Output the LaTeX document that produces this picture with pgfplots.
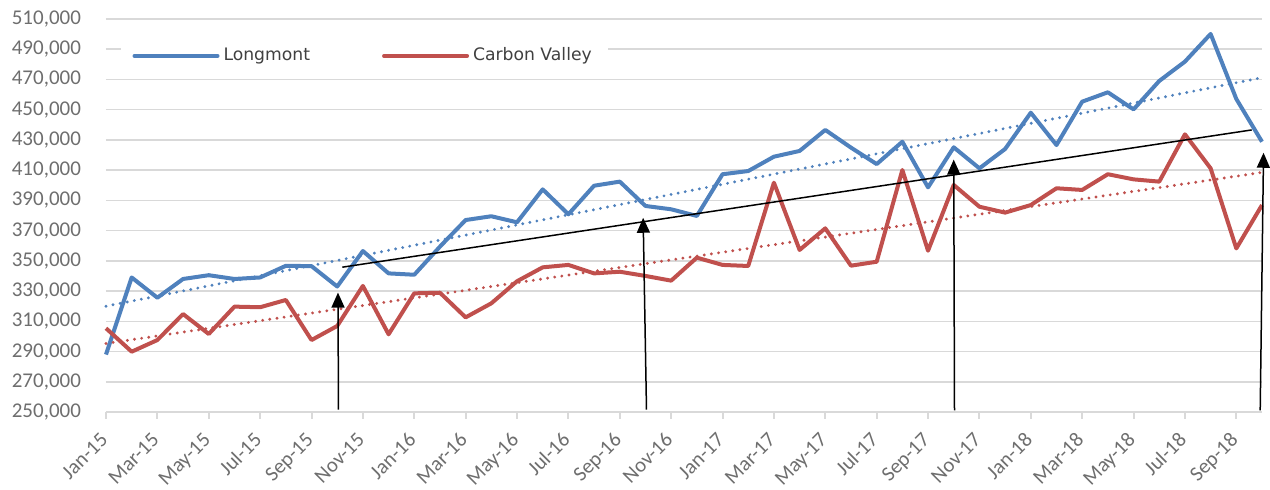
\documentclass[border=0pt]{standalone}
\usepackage{fontspec}
\setmainfont{Carlito}
\newfontfamily\legfont{DejaVu Sans}
\usepackage{pgfplots}
\pgfplotsset{compat=1.18}
\usetikzlibrary{arrows.meta}
\definecolor{lmblue}{HTML}{4F81BD}
\definecolor{cvred}{HTML}{C0504D}
\definecolor{gridgray}{HTML}{D9D9D9}
\definecolor{ticktext}{HTML}{6E6E6E}
\definecolor{legtext}{HTML}{404040}
\begin{document}
\begin{tikzpicture}
\begin{axis}[
  name=ax,
  scale only axis,
  width=578pt, height=196.5pt,
  xmin=0, xmax=45,
  ymin=250000, ymax=510000,
  clip=false,
  axis x line*=bottom, axis y line*=left,
  y axis line style={draw=none},
  x axis line style={draw=gridgray, line width=1pt},
  ytick={250000,270000,...,510000},
  ytick style={draw=none},
  xtick={0,2,...,44},
  xticklabels={Jan-15,Mar-15,May-15,Jul-15,Sep-15,Nov-15,Jan-16,Mar-16,May-16,Jul-16,Sep-16,Nov-16,Jan-17,Mar-17,May-17,Jul-17,Sep-17,Nov-17,Jan-18,Mar-18,May-18,Jul-18,Sep-18},
  xtick style={draw=gridgray, line width=1pt},
  tick align=outside,
  major tick length=3.5pt,
  ymajorgrids,
  grid style={gridgray, line width=0.75pt},
  scaled y ticks=false,
  /pgf/number format/.cd, fixed, 1000 sep={{,}}, assume math mode=true,
  /pgfplots/.cd,
  ticklabel style={text=ticktext},
  yticklabel style={font=\fontsize{10.5}{12}\selectfont, xshift=-5.5pt},
  xticklabel style={font=\fontsize{10.4}{12}\selectfont, xshift=1.5pt, yshift=-11pt, rotate=45, anchor=base east, inner sep=0pt},
  legend columns=-1,
  legend style={at={(axis description cs:0.0122,0.906)}, anchor=west,
    draw=none, fill=white, inner xsep=6pt, inner ysep=1pt,
    font=\legfont\fontsize{8.6}{10}\selectfont, text=legtext,
    /tikz/every even column/.append style={column sep=34pt}},
  legend image code/.code={\draw[#1, line cap=round] (0pt,0pt) -- (41.5pt,0pt);},
]
\addplot[lmblue, line width=2pt, line join=round] coordinates {
(0,288000) (1,339000) (2,325600) (3,338000) (4,340500) (5,338000) (6,339000) (7,346700) (8,346500) (9,333000)
(10,356500) (11,341700) (12,340800) (13,359400) (14,377000) (15,379500) (16,375500) (17,397300) (18,380800) (19,399700)
(20,402400) (21,386300) (22,384100) (23,379700) (24,407300) (25,409400) (26,418900) (27,422700) (28,436600) (29,424900)
(30,414000) (31,428800) (32,398600) (33,425100) (34,411200) (35,424000) (36,448000) (37,426600) (38,455300) (39,461500)
(40,450200) (41,469000) (42,481800) (43,500100) (44,457100) (45,428800)};
\addlegendentry{Longmont}
\addplot[cvred, line width=2pt, line join=round] coordinates {
(0,305400) (1,289900) (2,297600) (3,314800) (4,301600) (5,319700) (6,319300) (7,324100) (8,297600) (9,306900)
(10,333400) (11,301400) (12,328500) (13,328900) (14,312600) (15,321900) (16,336500) (17,345700) (18,347300) (19,341700)
(20,342800) (21,340000) (22,336900) (23,352100) (24,347300) (25,346600) (26,401700) (27,357200) (28,371500) (29,346800)
(30,349400) (31,410100) (32,356700) (33,400200) (34,385800) (35,381900) (36,386900) (37,398000) (38,396900) (39,407300)
(40,403900) (41,402400) (42,433700) (43,411200) (44,358200) (45,386900)};
\addlegendentry{Carbon Valley}
% linear trend lines
\addplot[lmblue, line width=1.6pt, line cap=round, dash pattern=on 0pt off 3.6pt, forget plot] coordinates {(0,320000) (45,471200)};
\addplot[cvred, line width=1.6pt, line cap=round, dash pattern=on 0pt off 3.6pt, forget plot] coordinates {(0,295300) (45,408500)};
% black annotation line
\addplot[black, line width=0.75pt, forget plot] coordinates {(9.2,345800) (44.6,436600)};
% arrows
\addplot[black, line width=0.75pt, -{Triangle[width=6.5pt,length=7.5pt]}, forget plot] coordinates {(9.05,251500) (9.03,329000)};
\addplot[black, line width=0.75pt, -{Triangle[width=6.5pt,length=7.5pt]}, forget plot] coordinates {(21.04,251500) (20.91,378500)};
\addplot[black, line width=0.75pt, -{Triangle[width=6.5pt,length=7.5pt]}, forget plot] coordinates {(33.03,251000) (33.0,417000)};
\addplot[black, line width=0.75pt, -{Triangle[width=6.5pt,length=7.5pt]}, forget plot] coordinates {(44.93,251000) (45.06,421500)};
\end{axis}
\pgfresetboundingbox
\path[use as bounding box] ([xshift=-53pt,yshift=-39pt]ax.south west) rectangle ([xshift=4pt,yshift=9.5pt]ax.north east);
\end{tikzpicture}
\end{document}
